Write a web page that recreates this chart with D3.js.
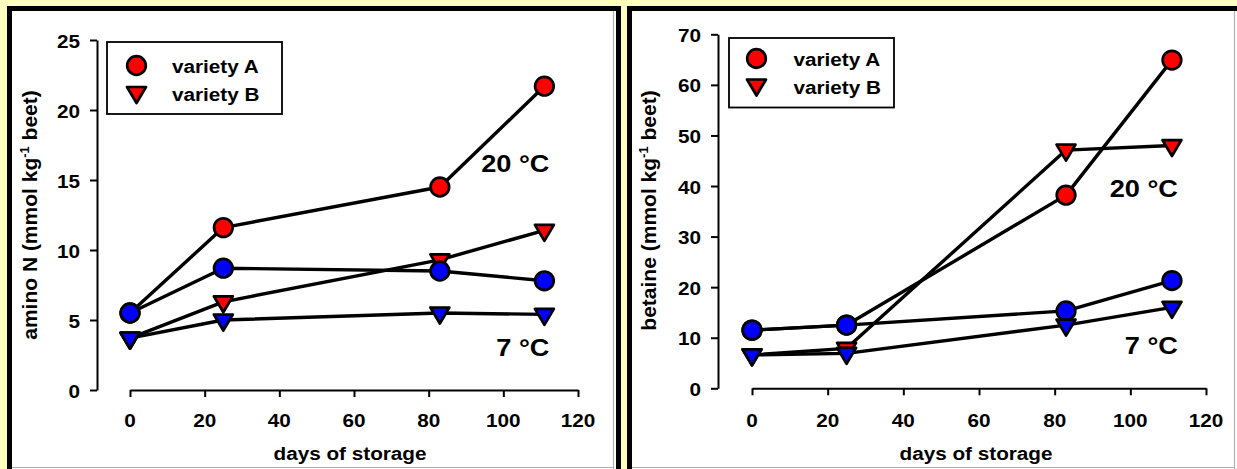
<!DOCTYPE html>
<html>
<head>
<meta charset="utf-8">
<script src="https://cdn.jsdelivr.net/npm/d3@7"></script>
<style>
  html, body { margin: 0; padding: 0; background: #FFFFC0; }
  svg { display: block; }
</style>
</head>
<body>
<svg id="chart" width="1237" height="469"></svg>
<script>
// ---------------- data ----------------
const days = [0, 25, 83, 111];
const dayTicks = [0, 20, 40, 60, 80, 100, 120];
const aminoTicks = [0, 5, 10, 15, 20, 25];
const betaineTicks = [0, 10, 20, 30, 40, 50, 60, 70];

// amino N (mmol kg-1 beet)
const aminoA20 = [5.5, 11.6, 14.5, 21.7];
const aminoB20 = [3.7, 6.3, 9.3, 11.4];
const aminoA7  = [5.5, 8.7, 8.5, 7.8];
const aminoB7  = [3.7, 5.0, 5.5, 5.4];

// betaine (mmol kg-1 beet)
const betaineA20 = [11.5, 12.5, 38.2, 64.9];
const betaineB20 = [6.6, 7.9, 47.1, 48.0];
const betaineA7  = [11.5, 12.5, 15.3, 21.3];
const betaineB7  = [6.6, 6.9, 12.5, 16.0];

const legendLabels = ["variety A", "variety B"];
const tempLabels = ["20 °C", "7 °C"];
const xTitle = "days of storage";
const aminoTitle = ["amino N (mmol kg", "-1", " beet)"];
const betaineTitle = ["betaine (mmol kg", "-1", " beet)"];

// ---------------- drawing ----------------
const svg = d3.select("#chart");
const FONT = "'Liberation Sans', Arial, Helvetica, sans-serif";
const SX = 1.12;
const FS = 18.5;

function stext(g, x, y, str, size, anchor, sx) {
  return g.append("text")
    .attr("transform", `translate(${x},${y}) scale(${sx},1)`)
    .attr("text-anchor", anchor)
    .style("font-family", FONT)
    .style("font-weight", "bold")
    .style("font-size", size + "px")
    .attr("fill", "#000")
    .text(str);
}

const triPath = "M-9.5,-5.5 L9.5,-5.5 L0,10.5 Z";

function marker(g, kind, x, y, fill) {
  if (kind === "circle") {
    g.append("circle").attr("cx", x).attr("cy", y).attr("r", 9.3)
      .attr("fill", fill).attr("stroke", "#000").attr("stroke-width", 2.7);
  } else {
    g.append("path").attr("d", triPath)
      .attr("transform", `translate(${x},${y})`)
      .attr("fill", fill).attr("stroke", "#000").attr("stroke-width", 2.7)
      .attr("stroke-linejoin", "round");
  }
}

function panelFrame(x0, x1) {
  const g = svg.append("g");
  g.append("rect").attr("x", x0 + 2.5).attr("y", 8.5)
    .attr("width", x1 - x0 - 5).attr("height", 520)
    .attr("fill", "#fff").attr("stroke", "#000").attr("stroke-width", 5);
  g.append("line").attr("x1", x0 + 5).attr("x2", x1 - 7).attr("y1", 467.5).attr("y2", 467.5)
    .attr("stroke", "#b0b0b0").attr("stroke-width", 1.2);
  g.append("line").attr("x1", x1 - 7.5).attr("x2", x1 - 7.5).attr("y1", 11).attr("y2", 469)
    .attr("stroke", "#b0b0b0").attr("stroke-width", 1.2);
}

function drawPanel(cfg) {
  const g = svg.append("g");
  const x = d3.scaleLinear().domain([0, 120]).range([cfg.x0, cfg.x1]);
  const y = d3.scaleLinear().domain([0, cfg.ymax]).range([cfg.y0, cfg.y1]);

  // y axis
  const yAxis = g.append("g").attr("transform", `translate(${cfg.yAxisX},0)`)
    .call(d3.axisLeft(y).tickValues(cfg.yTicks).tickSize(7).tickSizeOuter(0).tickFormat(""));
  yAxis.selectAll("path, line").attr("stroke", "#000").attr("stroke-width", 2);
  cfg.yTicks.forEach(t => stext(g, cfg.yAxisX - 17, y(t) + 7.5, String(t), FS, "end", SX));

  // x axis
  const xAxis = g.append("g").attr("transform", `translate(0,${cfg.y0})`)
    .call(d3.axisBottom(x).tickValues(dayTicks).tickSize(7).tickSizeOuter(0).tickFormat(""));
  xAxis.selectAll("path, line").attr("stroke", "#000").attr("stroke-width", 2);
  dayTicks.forEach(t => stext(g, x(t), 427, String(t), FS, "middle", SX));

  // axis titles
  stext(g, (cfg.x0 + cfg.x1) / 2 + cfg.xTitleDx, 460, xTitle, FS, "middle", SX);
  const yt = g.append("text")
    .attr("transform", `translate(${cfg.yTitleX},${cfg.yTitleY}) rotate(-90)`)
    .attr("text-anchor", "middle")
    .style("font-family", FONT).style("font-weight", "bold").style("font-size", "21px");
  yt.append("tspan").text(cfg.yTitle[0]);
  yt.append("tspan").attr("dy", -8).style("font-size", "13px").text(cfg.yTitle[1]);
  yt.append("tspan").attr("dy", 8).text(cfg.yTitle[2]);

  // series
  const series = [
    {vals: cfg.A20, kind: "circle", fill: "#FF0000"},
    {vals: cfg.B20, kind: "tri", fill: "#FF0000"},
    {vals: cfg.A7, kind: "circle", fill: "#0000FF"},
    {vals: cfg.B7, kind: "tri", fill: "#0000FF"}
  ];
  const line = d3.line().x((d, i) => x(days[i])).y(d => y(d));
  series.forEach(s => {
    g.append("path").attr("d", line(s.vals)).attr("fill", "none")
      .attr("stroke", "#000").attr("stroke-width", 3.4).attr("stroke-linejoin", "round");
  });
  series.forEach(s => {
    s.vals.forEach((v, i) => marker(g, s.kind, x(days[i]), y(v), s.fill));
  });

  // temperature labels
  stext(g, cfg.tempX, cfg.t20Y, tempLabels[0], 24.5, "end", 1.11);
  stext(g, cfg.tempX, cfg.t7Y, tempLabels[1], 24.5, "end", 1.11);

  // legend
  const L = cfg.legend;
  g.append("rect").attr("x", L.x).attr("y", L.y).attr("width", L.w).attr("height", L.h)
    .attr("fill", "#fff").attr("stroke", "#000").attr("stroke-width", 1.8);
  marker(g, "circle", L.x + L.mx, L.y + L.c1, "#FF0000");
  marker(g, "tri", L.x + L.mx, L.y + L.c2, "#FF0000");
  stext(g, L.x + L.tx, L.y + L.b1, legendLabels[0], FS, "start", SX);
  stext(g, L.x + L.tx, L.y + L.b2, legendLabels[1], FS, "start", SX);
}

panelFrame(7, 621);
panelFrame(627, 1242);

drawPanel({
  x0: 130, x1: 578, y0: 390, y1: 40, ymax: 25, yAxisX: 97,
  yTicks: aminoTicks, yTitle: aminoTitle, yTitleX: 37, yTitleY: 215, xTitleDx: -4,
  A20: aminoA20, B20: aminoB20, A7: aminoA7, B7: aminoB7,
  tempX: 549.5, t20Y: 171.5, t7Y: 356,
  legend: {x: 107, y: 42, w: 175, h: 72, mx: 29.5, c1: 23.5, c2: 50.5, tx: 65, b1: 30.5, b2: 58.5}
});

drawPanel({
  x0: 752, x1: 1206, y0: 388.3, y1: 34.3, ymax: 70, yAxisX: 718,
  yTicks: betaineTicks, yTitle: betaineTitle, yTitleX: 656, yTitleY: 210.5, xTitleDx: -3,
  A20: betaineA20, B20: betaineB20, A7: betaineA7, B7: betaineB7,
  tempX: 1178, t20Y: 196.5, t7Y: 354,
  legend: {x: 729, y: 38, w: 165, h: 69.5, mx: 27.5, c1: 20.5, c2: 47, tx: 64.5, b1: 28, b2: 55.5}
});
</script>
</body>
</html>
